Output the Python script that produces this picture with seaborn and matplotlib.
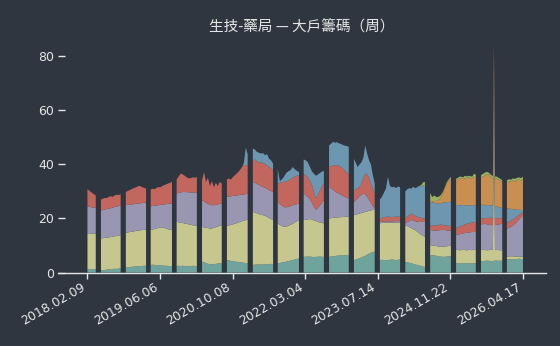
import numpy as np
import matplotlib
matplotlib.use("Agg")
import matplotlib.pyplot as plt
import seaborn as sns

# ---- data: weekly index; each segment is a run of weeks, separated by missing weeks ----
tick_labels = ["2018.02.09", "2019.06.06", "2020.10.08", "2022.03.04",
               "2023.07.14", "2024.11.22", "2026.04.17"]
tick_weeks = [0, 70, 140, 210, 280, 350, 420]

seg_start = [0, 13, 37, 61, 86, 110.5, 134.5, 159.5, 183.5, 208.5, 233, 257,
             282, 306.5, 330.5, 355.5, 379.5, 404.5]
seg_end = [8, 32, 56.5, 81.5, 105.5, 129.5, 154.5, 179, 204, 228, 252, 277,
           301.5, 325.5, 350.5, 374.5, 400, 420]
# segment 17 holds a one-week spike, so its weeks are listed explicitly
seg17_weeks = [379.5, 381.5, 383.5, 385.5, 387.5, 389.5, 391, 392, 393,
               394.5, 396.5, 398.5, 400]

layer_names = ["teal", "khaki", "lavender", "red", "blue", "orange", "green"]

teal = [
    [1.3, 1.2, 1.2, 1.3, 1.2],
    [1.0, 0.8, 0.9, 1.1, 1.2, 1.0, 1.3, 1.4, 1.3, 1.5, 1.4],
    [1.9, 2.0, 2.0, 2.1, 2.2, 2.2, 2.3, 2.4, 2.4, 2.5, 2.5],
    [2.8, 2.9, 2.8, 2.7, 2.8, 2.6, 2.6, 2.5, 2.5, 2.4, 2.4, 2.4],
    [2.4, 2.5, 2.4, 2.5, 2.4, 2.3, 2.4, 2.4, 2.5, 2.4, 2.4],
    [4.0, 3.8, 3.5, 3.2, 3.1, 3.0, 3.1, 3.2, 3.3, 3.4, 3.4],
    [4.6, 4.5, 4.3, 4.2, 4.0, 4.0, 3.9, 3.8, 3.7, 3.6, 3.5, 3.4],
    [2.8, 2.9, 3.0, 3.0, 2.9, 3.0, 3.0, 3.1, 3.1, 3.2, 3.1],
    [3.4, 3.5, 3.7, 3.8, 4.0, 4.2, 4.4, 4.6, 4.8, 5.0, 5.2],
    [5.8, 5.8, 5.9, 5.9, 5.8, 5.7, 5.8, 5.8, 5.9, 5.8, 5.8],
    [5.8, 5.9, 6.0, 6.1, 6.2, 6.3, 6.3, 6.4, 6.4, 6.5, 6.5],
    [4.6, 4.8, 5.0, 5.3, 5.6, 5.9, 6.2, 6.6, 7.0, 7.3, 7.6, 7.7],
    [4.6, 4.7, 4.6, 4.5, 4.6, 4.7, 4.8, 4.7, 4.6, 4.7, 4.8],
    [4.0, 3.8, 3.6, 3.4, 3.2, 3.0, 2.8, 2.6, 2.4, 2.2, 2.1],
    [6.5, 6.4, 6.3, 6.2, 6.0, 5.9, 5.8, 5.8, 5.9, 6.0, 6.0],
    [3.4, 3.5, 3.4, 3.3, 3.4, 3.5, 3.4, 3.3, 3.4, 3.4, 3.5, 3.4],
    [4.3, 4.2, 4.3, 4.4, 4.3, 4.2, 4.3, 4.3, 4.4, 4.4, 4.3, 4.4, 4.3],
    [4.8, 4.9, 4.8, 5.0, 4.9, 5.0, 5.1, 5.0, 5.0],
]
khaki = [
    [13.2, 13.3, 13.2, 13.1, 13.2],
    [11.6, 11.9, 11.9, 11.8, 11.8, 12.1, 12.0, 12.0, 12.2, 12.2, 12.4],
    [12.8, 12.8, 13.0, 13.0, 13.0, 13.2, 13.2, 13.2, 13.3, 13.3, 13.4],
    [12.9, 13.0, 13.3, 13.6, 13.7, 14.1, 14.1, 14.0, 13.8, 13.6, 13.4, 13.3],
    [16.3, 16.1, 16.0, 15.8, 15.7, 15.7, 15.4, 15.2, 15.0, 14.9, 14.8],
    [12.9, 12.9, 13.0, 13.2, 13.2, 13.3, 13.4, 13.6, 13.7, 13.9, 14.1],
    [12.6, 12.9, 13.3, 13.6, 14.0, 14.2, 14.6, 14.9, 15.3, 15.6, 15.9, 16.2],
    [19.6, 19.3, 18.9, 18.6, 18.4, 18.2, 18.0, 17.5, 17.1, 16.6, 16.3],
    [14.8, 14.1, 13.5, 13.1, 13.0, 13.1, 13.2, 13.4, 13.7, 14.0, 14.2],
    [13.6, 13.7, 13.7, 13.9, 13.8, 13.6, 13.2, 13.0, 12.6, 12.5, 12.4],
    [14.2, 14.2, 14.2, 14.2, 14.2, 14.1, 14.2, 14.1, 14.2, 14.1, 14.1],
    [16.6, 16.6, 16.6, 16.5, 16.4, 16.3, 16.2, 16.0, 15.8, 15.7, 15.5, 15.4],
    [13.6, 13.6, 13.8, 13.9, 13.8, 13.7, 13.6, 13.8, 13.9, 13.8, 13.7],
    [13.5, 13.4, 13.2, 13.0, 12.8, 12.7, 12.4, 12.0, 11.6, 11.4, 11.1],
    [3.6, 3.6, 3.6, 3.6, 3.6, 3.6, 3.7, 3.8, 3.8, 3.8, 3.9],
    [4.9, 4.9, 4.8, 5.0, 5.0, 4.8, 4.8, 5.1, 4.9, 4.9, 4.9, 4.9],
    [4.0, 4.2, 4.0, 3.8, 4.0, 4.2, 4.1, 52.6, 4.0, 4.0, 4.0, 3.8, 4.0],
    [1.0, 1.1, 1.2, 1.0, 1.0, 0.9, 0.8, 0.9, 0.8],
]
lavender = [
    [10.0, 9.8, 9.7, 9.6, 9.5],
    [10.4, 10.4, 10.5, 10.6, 10.6, 10.7, 10.7, 10.8, 10.9, 10.9, 11.1],
    [10.2, 10.2, 10.1, 10.1, 10.1, 10.0, 10.0, 10.0, 10.0, 10.0, 10.0],
    [8.8, 8.7, 8.6, 8.5, 8.4, 8.3, 8.4, 8.7, 9.0, 9.4, 9.7, 9.8],
    [10.5, 10.8, 11.2, 11.5, 11.7, 11.7, 11.9, 12.0, 12.1, 12.3, 12.4],
    [9.9, 9.6, 9.3, 9.0, 8.7, 8.6, 8.4, 8.2, 8.2, 8.1, 8.0],
    [10.8, 10.7, 10.6, 10.5, 10.4, 10.3, 10.1, 10.0, 9.8, 9.7, 9.6, 9.6],
    [11.1, 11.0, 10.9, 10.8, 10.7, 10.5, 10.3, 10.3, 10.3, 10.3, 10.4],
    [7.9, 7.8, 7.5, 7.3, 7.1, 7.0, 7.0, 6.9, 6.6, 6.3, 6.1],
    [9.8, 9.1, 8.4, 7.4, 6.4, 5.2, 4.2, 5.0, 6.3, 7.5, 8.6],
    [11.7, 11.1, 10.4, 9.7, 9.1, 8.8, 8.3, 7.9, 7.4, 7.1, 6.8],
    [4.9, 5.4, 5.9, 6.4, 6.8, 7.0, 6.6, 5.4, 4.2, 2.8, 1.5, 0.6],
    [0.5, 0.5, 0.5, 0.5, 0.5, 0.5, 0.5, 0.5, 0.5, 0.5, 0.5],
    [0.7, 1.4, 2.2, 3.0, 3.3, 3.3, 3.6, 4.1, 4.7, 5.1, 5.5],
    [5.6, 5.6, 5.6, 5.7, 6.0, 6.2, 6.3, 6.1, 5.9, 5.7, 5.6],
    [5.5, 5.6, 6.0, 6.0, 6.1, 6.3, 6.5, 6.4, 6.6, 6.7, 6.6, 6.7],
    [9.5, 9.5, 9.7, 9.6, 9.3, 9.1, 9.2, 9.8, 9.2, 9.2, 9.5, 9.7, 9.7],
    [10.4, 10.5, 10.9, 11.4, 12.1, 12.9, 13.7, 14.5, 15.2],
]
red = [
    [6.3, 5.9, 5.5, 5.0, 4.6],
    [4.0, 4.2, 4.3, 4.0, 4.4, 4.4, 4.0, 4.3, 4.4, 4.0, 4.1],
    [4.9, 5.2, 5.4, 5.7, 5.9, 6.1, 6.4, 6.4, 5.9, 5.5, 5.1],
    [6.2, 6.4, 6.1, 6.5, 6.7, 6.5, 6.9, 7.1, 7.3, 7.5, 7.7, 8.0],
    [5.2, 6.1, 7.0, 6.5, 6.0, 5.5, 5.1, 5.3, 5.6, 5.4, 5.8],
    [7.3, 10.8, 7.7, 9.6, 7.0, 8.9, 6.6, 8.2, 6.8, 8.1, 7.4],
    [6.4, 6.7, 6.1, 6.9, 7.4, 8.0, 8.6, 9.3, 10.2, 10.9, 10.7, 10.5],
    [8.0, 8.6, 8.4, 8.2, 8.9, 8.8, 8.9, 8.7, 8.5, 8.4, 8.2],
    [6.8, 7.8, 8.7, 9.3, 9.6, 9.7, 9.9, 10.1, 10.3, 10.5, 10.5],
    [7.4, 7.4, 7.2, 6.8, 6.5, 5.5, 4.3, 4.7, 5.4, 6.0, 6.1],
    [7.3, 8.1, 9.0, 9.7, 10.2, 10.3, 10.2, 10.1, 9.8, 9.3, 8.6],
    [4.3, 4.0, 3.7, 3.5, 4.2, 5.8, 7.6, 8.4, 8.0, 7.2, 6.4, 5.5],
    [1.3, 1.4, 1.5, 1.7, 1.7, 1.7, 1.6, 1.6, 1.6, 1.7, 1.6],
    [1.8, 2.0, 2.2, 2.4, 2.1, 2.0, 1.8, 1.7, 1.5, 1.3, 1.3],
    [1.8, 1.8, 1.8, 1.9, 2.0, 2.1, 1.8, 1.7, 1.7, 1.8, 1.7],
    [2.7, 2.8, 2.8, 2.9, 3.0, 3.2, 3.3, 3.4, 3.5, 3.5, 3.6, 3.7],
    [2.0, 2.2, 2.1, 2.4, 2.6, 2.8, 2.6, 3.7, 2.5, 2.5, 2.3, 2.2, 2.4],
    [2.2, 2.3, 2.3, 2.2, 2.1, 1.9, 1.7, 1.5, 1.4],
]
blue = [
    [0, 0, 0, 0, 0],
    [0, 0, 0, 0, 0, 0, 0, 0, 0, 0, 0],
    [0, 0, 0, 0, 0, 0, 0, 0, 0, 0, 0],
    [0, 0, 0, 0, 0, 0, 0, 0, 0, 0, 0, 0],
    [0, 0, 0, 0, 0, 0, 0, 0, 0, 0, 0],
    [0, 0, 0, 0, 0, 0, 0, 0, 0, 0, 0],
    [0, 0, 0, 0, 0, 0, 0, 0, 0, 0.8, 6.5, 4.0],
    [4.3, 3.7, 3.4, 3.7, 3.1, 3.7, 3.2, 4.2, 3.1, 3.0, 2.3],
    [5.5, 0.6, 1.1, 2.0, 3.1, 3.5, 3.3, 4.0, 2.8, 1.8, 1.2],
    [5.2, 5.5, 5.6, 5.2, 5.0, 6.6, 8.3, 7.7, 6.6, 5.5, 4.7],
    [8.0, 8.3, 8.7, 8.3, 8.5, 8.3, 8.5, 8.7, 9.1, 9.8, 10.4],
    [11.6, 9.7, 7.8, 8.3, 7.8, 7.5, 10.4, 7.6, 6.5, 7.0, 5.0, 3.8],
    [7.0, 7.8, 9.1, 10.4, 14.8, 11.4, 11.0, 11.1, 10.6, 11.1, 10.9],
    [10.0, 10.2, 10.0, 9.2, 10.3, 10.2, 10.9, 11.6, 11.6, 12.3, 12.0],
    [8.6, 8.6, 8.5, 8.2, 7.8, 7.8, 8.2, 8.6, 8.7, 8.8, 9.0],
    [8.4, 8.2, 7.8, 7.7, 7.5, 7.0, 6.7, 6.7, 6.6, 6.3, 6.3, 6.2],
    [5.4, 4.9, 4.7, 4.8, 4.7, 4.5, 4.5, 3.1, 4.4, 4.4, 4.1, 3.9, 3.3],
    [5.3, 4.8, 4.3, 3.8, 3.2, 2.5, 1.9, 1.2, 0.7],
]
orange = [
    [0, 0, 0, 0, 0],
    [0, 0, 0, 0, 0, 0, 0, 0, 0, 0, 0],
    [0, 0, 0, 0, 0, 0, 0, 0, 0, 0, 0],
    [0, 0, 0, 0, 0, 0, 0, 0, 0, 0, 0, 0],
    [0, 0, 0, 0, 0, 0, 0, 0, 0, 0, 0],
    [0, 0, 0, 0, 0, 0, 0, 0, 0, 0, 0],
    [0, 0, 0, 0, 0, 0, 0, 0, 0, 0, 0, 0],
    [0, 0, 0, 0, 0, 0, 0, 0, 0, 0, 0],
    [0, 0, 0, 0, 0, 0, 0, 0, 0, 0, 0],
    [0, 0, 0, 0, 0, 0, 0, 0, 0, 0, 0],
    [0, 0, 0, 0, 0, 0, 0, 0, 0, 0, 0],
    [0, 0, 0, 0, 0, 0, 0, 0, 0, 0, 0, 0],
    [0, 0, 0, 0, 0, 0, 0, 0, 0, 0, 0],
    [0, 0, 0, 0, 0, 0, 0, 0, 0, 0, 0],
    [0.5, 0.3, 0.7, 0.8, 1.4, 1.9, 3.2, 5.0, 7.0, 7.9, 9.0],
    [9.2, 9.5, 10.0, 10.1, 9.6, 10.0, 10.3, 10.3, 9.8, 10.2, 10.4, 10.5],
    [10.0, 10.5, 11.0, 11.4, 11.3, 10.2, 10.2, 10.0, 10.2, 10.2, 10.2, 9.9, 9.4],
    [9.7, 10.0, 10.2, 10.6, 10.3, 11.1, 11.1, 11.0, 11.3],
]
green = [
    [0, 0, 0, 0, 0],
    [0, 0, 0, 0, 0, 0, 0, 0, 0, 0, 0],
    [0, 0, 0, 0, 0, 0, 0, 0, 0, 0, 0],
    [0, 0, 0, 0, 0, 0, 0, 0, 0, 0, 0, 0],
    [0, 0, 0, 0, 0, 0, 0, 0, 0, 0, 0],
    [0, 0, 0, 0, 0, 0, 0, 0, 0, 0, 0],
    [0, 0, 0, 0, 0, 0, 0, 0, 0, 0, 0, 0],
    [0, 0, 0, 0, 0, 0, 0, 0, 0, 0, 0],
    [0, 0, 0, 0, 0, 0, 0, 0, 0, 0, 0],
    [0, 0, 0, 0, 0, 0, 0, 0, 0, 0, 0],
    [0, 0, 0, 0, 0, 0, 0, 0, 0, 0, 0],
    [0, 0, 0, 0, 0, 0, 0, 0, 0, 0, 0, 0],
    [0, 0, 0, 0, 0, 0, 0, 0, 0, 0, 0],
    [0, 0, 0, 0, 0, 0, 0, 0, 0.5, 1.0, 1.5],
    [2.8, 1.6, 2.0, 1.5, 1.2, 1.0, 0.6, 0.4, 0.4, 0.5, 0.3],
    [0.6, 0.5, 0.7, 0.4, 0.6, 1.0, 0.5, 0.6, 0.8, 0.5, 1.2, 0.8],
    [0.8, 1.0, 1.2, 0.8, 0.6, 1.0, 0.8, 0.5, 0.8, 0.8, 0.6, 0.7, 1.0],
    [0.7, 0.9, 0.6, 0.8, 1.0, 0.7, 0.9, 0.8, 1.0],
]

colors = ["#6fa49c", "#c6c78f", "#9896b1", "#c3675e", "#6d97b0", "#c98f50", "#99b163"]
bg = "#2f3640"
fg = "#e6e6e6"


def segment_weeks(i, n):
    if i == 16:
        return list(seg17_weeks)
    return list(np.linspace(seg_start[i], seg_end[i], n))


def join_segments(segs):
    out = []
    for i, s in enumerate(segs):
        if i > 0:
            out.append(np.nan)  # missing weeks between segments
        out.extend(s)
    return np.array(out, dtype=float)


x_parts = []
for i, s in enumerate(teal):
    if i > 0:
        x_parts.append((seg_end[i - 1] + seg_start[i]) / 2.0)
    x_parts.extend(segment_weeks(i, len(s)))
x = np.array(x_parts, dtype=float)
layers = [join_segments(s) for s in (teal, khaki, lavender, red, blue, orange, green)]

sns.set_theme(style="dark", rc={
    "axes.facecolor": bg, "figure.facecolor": bg,
    "axes.edgecolor": fg, "text.color": fg,
    "xtick.color": fg, "ytick.color": fg,
    "axes.labelcolor": fg,
})
plt.rcParams["font.family"] = ["DejaVu Sans", "Noto Sans CJK TC"]

fig = plt.figure(figsize=(5.6, 3.46), dpi=100)
ax = fig.add_axes([0.1036, 0.2124, 0.8714, 0.6893])
ax.set_facecolor(bg)

polys = ax.stackplot(x, *layers, colors=colors, labels=layer_names, linewidth=0)
for p in polys:
    p.set_edgecolor("none")
    p.set_linewidth(0)

ax.set_xlim(-28.4, 442.2)
ax.set_ylim(0, 88.2)
ax.set_yticks([0, 20, 40, 60, 80])
ax.set_xticks(tick_weeks)
ax.set_xticklabels(tick_labels, rotation=30, ha="right")

ax.tick_params(axis="x", which="both", bottom=True, direction="out", length=4,
               width=1, color=fg, labelsize=9, labelcolor=fg, pad=2)
ax.tick_params(axis="y", which="both", left=True, direction="in", length=5,
               width=1, color=fg, labelsize=9, labelcolor=fg, pad=3)

for side in ("top", "right", "left"):
    ax.spines[side].set_visible(False)
ax.spines["bottom"].set_color(fg)
ax.spines["bottom"].set_linewidth(1)
ax.grid(False)

ax.set_title("生技-藥局 — 大戶籌碼（周）", fontsize=10.5, color=fg,
             family=["Noto Sans CJK TC", "DejaVu Sans"], pad=1)

fig.savefig("out.png", dpi=100, facecolor=bg)
